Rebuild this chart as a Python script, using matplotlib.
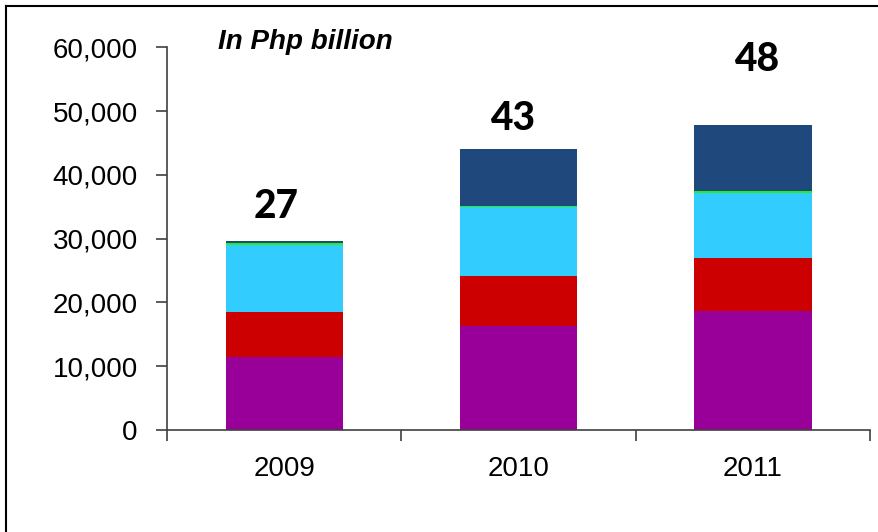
import numpy as np
import matplotlib
matplotlib.use("Agg")
import matplotlib.pyplot as plt
from matplotlib.lines import Line2D

years = ["2009", "2010", "2011"]

# stacked segments, bottom to top
purple = [11440, 16300, 18610]
red = [7100, 7840, 8300]
light_blue = [10410, 10770, 10280]
green = [410, 150, 270]
dark_blue = [310, 8940, 10300]

totals_label = ["27", "43", "48"]

segments = [purple, red, light_blue, green, dark_blue]
colors = ["#990099", "#CC0000", "#33CCFF", "#22EE22", "#1F497D"]

plt.rcParams["font.family"] = ["Liberation Sans", "DejaVu Sans"]

fig = plt.figure(figsize=(8.79, 5.32), dpi=100)
ax = fig.add_axes([0.190, 0.1917, 0.800, 0.7194])

x = np.arange(len(years))
bottom = np.zeros(len(years))
for vals, col in zip(segments, colors):
    ax.bar(x, vals, width=0.5, bottom=bottom, color=col, linewidth=0)
    bottom += np.array(vals)

ax.set_xlim(-0.5, 2.5)
ax.set_ylim(0, 60000)
ax.set_yticks(range(0, 60001, 10000))
ax.set_yticklabels([f"{v:,}" for v in range(0, 60001, 10000)], fontsize=20)

# category boundaries as major ticks, labels on minor ticks
ax.set_xticks([-0.5, 0.5, 1.5, 2.5])
ax.set_xticklabels([])
ax.set_xticks(x, minor=True)
ax.set_xticklabels(years, minor=True, fontsize=20)
ax.tick_params(axis="x", which="major", direction="out", length=8,
               width=1.2, color="#404040")
ax.tick_params(axis="x", which="minor", length=0, pad=19)
ax.tick_params(axis="y", direction="out", length=8, width=1.2,
               color="#404040", pad=13)

for s in ["top", "right"]:
    ax.spines[s].set_visible(False)
for s in ["left", "bottom"]:
    ax.spines[s].set_color("#404040")
    ax.spines[s].set_linewidth(1.2)

ax.text(0.0725, 1.014, "In Php billion", transform=ax.transAxes,
        fontsize=20, fontweight="bold", fontstyle="italic",
        ha="left", va="center")

label_pos = [(-0.035, 35100), (0.973, 48900), (2.017, 58150)]
for (lx, ly), txt in zip(label_pos, totals_label):
    ax.text(lx, ly, txt, fontsize=28, fontweight="black",
            family=["Lato", "DejaVu Sans"], ha="center", va="center",
            clip_on=False)

# outer frame (left and top edges visible)
fig.add_artist(Line2D([6 / 879, 6 / 879], [0, 1 - 6 / 532],
                      transform=fig.transFigure, color="black", lw=1.5))
fig.add_artist(Line2D([6 / 879, 1], [1 - 6 / 532, 1 - 6 / 532],
                      transform=fig.transFigure, color="black", lw=1.5))

fig.savefig("out.png", dpi=100)
